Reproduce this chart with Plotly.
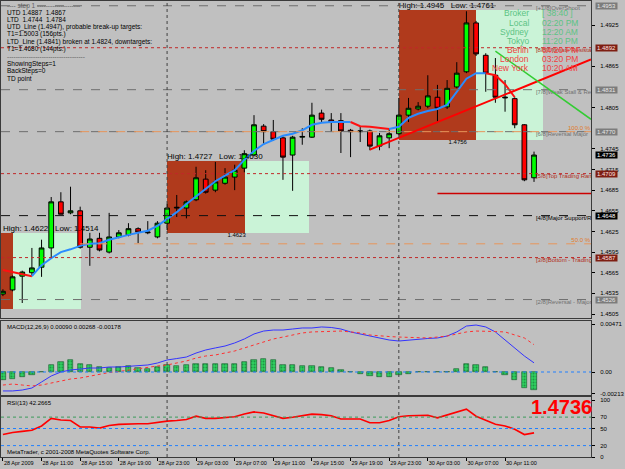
import plotly.graph_objects as go

# ---------------- DATA ----------------
bar_index = list(range(56))
opens = [1.4534, 1.4540, 1.4560, 1.4565, 1.4573, 1.4601, 1.4668, 1.4652, 1.4655, 1.4602,
         1.4615, 1.4595, 1.4617, 1.4620, 1.4629, 1.4623, 1.4617, 1.4637, 1.4659, 1.4659,
         1.4671, 1.4701, 1.4685, 1.4695, 1.4704, 1.4717, 1.4736, 1.4778, 1.4770, 1.4761,
         1.4736, 1.4762, 1.4762, 1.4797, 1.4787, 1.4786, 1.4772, 1.4770, 1.4771, 1.4749,
         1.4761, 1.4767, 1.4794, 1.4803, 1.4807, 1.4820, 1.4806, 1.4835, 1.4857, 1.4928,
         1.4881, 1.4852, 1.4819, 1.4818, 1.4780, 1.4703]
highs = [1.4541, 1.4561, 1.4568, 1.4601, 1.4613, 1.4675, 1.4682, 1.4690, 1.4661, 1.4623,
         1.4623, 1.4652, 1.4627, 1.4637, 1.4631, 1.4640, 1.4640, 1.4665, 1.4678, 1.4670,
         1.4719, 1.4714, 1.4726, 1.4717, 1.4722, 1.4743, 1.4794, 1.4781, 1.4787, 1.4763,
         1.4764, 1.4775, 1.4812, 1.4802, 1.4797, 1.4797, 1.4774, 1.4777, 1.4773, 1.4768,
         1.4775, 1.4819, 1.4819, 1.4813, 1.4852, 1.4838, 1.4845, 1.4871, 1.4945, 1.4931,
         1.4884, 1.4877, 1.4845, 1.4820, 1.4781, 1.4741]
lows = [1.4531, 1.4538, 1.4521, 1.4560, 1.4559, 1.4586, 1.4650, 1.4650, 1.4600, 1.4575,
        1.4596, 1.4593, 1.4615, 1.4618, 1.4608, 1.4621, 1.4615, 1.4627, 1.4646, 1.4644,
        1.4669, 1.4680, 1.4682, 1.4693, 1.4685, 1.4711, 1.4734, 1.4751, 1.4757, 1.4700,
        1.4684, 1.4751, 1.4761, 1.4784, 1.4770, 1.4739, 1.4733, 1.4755, 1.4743, 1.4743,
        1.4746, 1.4765, 1.4784, 1.4801, 1.4804, 1.4784, 1.4803, 1.4833, 1.4855, 1.4880,
        1.4828, 1.4812, 1.4799, 1.4775, 1.4698, 1.4697]
closes = [1.4538, 1.4559, 1.4566, 1.4572, 1.4601, 1.4668, 1.4650, 1.4655, 1.4602, 1.4614,
          1.4598, 1.4617, 1.4623, 1.4629, 1.4624, 1.4624, 1.4637, 1.4659, 1.4660, 1.4668,
          1.4703, 1.4682, 1.4697, 1.4704, 1.4714, 1.4738, 1.4780, 1.4770, 1.4759, 1.4733,
          1.4762, 1.4763, 1.4794, 1.4788, 1.4784, 1.4771, 1.4770, 1.4771, 1.4749, 1.4764,
          1.4767, 1.4794, 1.4804, 1.4807, 1.4822, 1.4804, 1.4833, 1.4855, 1.4928, 1.4883,
          1.4855, 1.4820, 1.4820, 1.4780, 1.4700, 1.4736]

ma_values = [1.4569, 1.4566, 1.4563, 1.4560, 1.4576, 1.4586, 1.4595, 1.4599, 1.4604, 1.4607,
             1.4608, 1.4613, 1.4617, 1.4620, 1.4623, 1.4626, 1.4633, 1.4643, 1.4653, 1.4665,
             1.4676, 1.4688, 1.4698, 1.4706, 1.4714, 1.4729, 1.4742, 1.4752, 1.4758, 1.4764,
             1.4767, 1.4772, 1.4780, 1.4783, 1.4784, 1.4784, 1.4784, 1.4778, 1.4777, 1.4775,
             1.4774, 1.4777, 1.4790, 1.4796, 1.4800, 1.4803, 1.4809, 1.4828, 1.4847, 1.4855,
             1.4855, 1.4852, 1.4839, 1.4820]

macd_main = [-0.00186, -0.00186, -0.00177, -0.00157, -0.00098, -0.00039, 0.00000, 0.00020, 0.00029, 0.00039,
             0.00039, 0.00049, 0.00049, 0.00054, 0.00059, 0.00069, 0.00088, 0.00118, 0.00132, 0.00147,
             0.00186, 0.00216, 0.00236, 0.00255, 0.00285, 0.00324, 0.00373, 0.00402, 0.00412, 0.00412,
             0.00422, 0.00432, 0.00432, 0.00442, 0.00437, 0.00422, 0.00393, 0.00373, 0.00353, 0.00334,
             0.00314, 0.00304, 0.00314, 0.00324, 0.00329, 0.00334, 0.00353, 0.00393, 0.00451, 0.00461,
             0.00442, 0.00393, 0.00314, 0.00236, 0.00157, 0.00090]
macd_signal = [-0.00128, -0.00118, -0.00128, -0.00137, -0.00128, -0.00108, -0.00088, -0.00069, -0.00059, -0.00039,
               -0.00020, -0.00005, 0.00005, 0.00020, 0.00029, 0.00044, 0.00059, 0.00069, 0.00088, 0.00108,
               0.00137, 0.00157, 0.00167, 0.00186, 0.00206, 0.00236, 0.00265, 0.00294, 0.00324, 0.00343,
               0.00363, 0.00383, 0.00393, 0.00397, 0.00402, 0.00402, 0.00393, 0.00383, 0.00363, 0.00353,
               0.00348, 0.00343, 0.00338, 0.00334, 0.00334, 0.00343, 0.00353, 0.00373, 0.00393, 0.00402,
               0.00402, 0.00397, 0.00393, 0.00363, 0.00334, 0.00268]
macd_hist = [-0.00082, -0.00072, -0.00049, -0.00032, 0.00002, 0.00072, 0.00098, 0.00115, 0.00081, 0.00066,
             0.00049, 0.00042, 0.00049, 0.00059, 0.00039, 0.00032, 0.00049, 0.00066, 0.00059, 0.00066,
             0.00081, 0.00081, 0.00081, 0.00081, 0.00081, 0.00098, 0.00121, 0.00130, 0.00115, 0.00066,
             0.00066, 0.00056, 0.00056, 0.00049, 0.00039, 0.00017, 0.00003, -0.00017, -0.00042, -0.00049,
             -0.00049, -0.00032, -0.00017, 0.00000, 0.00001, 0.00003, 0.00001, 0.00026, 0.00081, 0.00072,
             0.00049, 0.00000, -0.00026, -0.00081, -0.00157, -0.00178]

rsi_values = [39.4, 43.1, 45.0, 46.9, 54.5, 67.8, 65.0, 64.0, 52.6, 52.6,
              50.7, 55.4, 57.3, 58.3, 58.3, 58.3, 61.1, 63.0, 64.0, 65.9,
              71.6, 67.8, 67.8, 69.7, 70.6, 75.3, 79.1, 77.2, 72.5, 67.8,
              69.7, 72.5, 75.3, 74.4, 72.5, 66.8, 66.8, 66.8, 60.2, 60.2,
              64.0, 70.6, 72.5, 73.4, 73.4, 68.7, 73.4, 78.2, 83.9, 71.6,
              64.0, 57.3, 54.5, 48.8, 39.4, 42.27]

tick_bars = [0, 4, 8, 12, 16, 20, 24, 28, 32, 36, 40, 44, 48, 52]
tick_labels = ["28 Apr 2009", "28 Apr 11:00", "28 Apr 15:00", "28 Apr 19:00", "28 Apr 23:00",
               "29 Apr 03:00", "29 Apr 07:00", "29 Apr 11:00", "29 Apr 15:00", "29 Apr 19:00",
               "29 Apr 23:00", "30 Apr 03:00", "30 Apr 07:00", "30 Apr 11:00"]
day_separators = [17, 41]

price_ticks = [1.4505, 1.4535, 1.4565, 1.4595, 1.4625, 1.4655, 1.4685, 1.4715, 1.4745,
               1.4775, 1.4805, 1.4835, 1.4865, 1.4895, 1.4925, 1.4955]

murrey_levels = [1.4953, 1.4892, 1.4831, 1.4770, 1.4709, 1.4648, 1.4587, 1.4526]
murrey_labels = ["[+1/8]OverShoot", "[8/8]Ultimate Resistance", "[7/8]Weak Stall & Reverse",
                 "[6/8]Reversal Major", "[5/8]Top Trading Range", "[4/8]Major Support/Resist",
                 "[3/8]Bottom - Trading Range", "[2/8]Reversal - Major"]
murrey_kind = ["gray", "red", "gray", "gray", "red", "black", "red", "gray"]

fib_start = 8
fib_levels = [1.4770, 1.4607]
fib_labels = ["100.0 %", "50.0 %"]

box_start = [-8, 17, 41]
box_mid = [1, 25.1, 49]
box_end = [8.1, 31.7, 55.9]
box_high = [1.4623, 1.4727, 1.4947]
box_low = [1.4512, 1.4623, 1.4758]
box_label_x = [0, 17, 41]
box_labels = ["High: 1.4622   Low: 1.4514", "High: 1.4727   Low: 1.4630", "High: 1.4945   Low: 1.4761"]
low_label_x = [24.2, 47.1]
low_label_y = [1.4623, 1.4758]
low_labels = ["1.4623", "1.4756"]

ltd_x = [38, 45]
ltd_y = [1.4744, 1.4784]
utd_x = [51, 53]
utd_y = [1.4887, 1.4867]
target_start = 45
target_price = 1.4680
last_price = 1.4736

info_lines = ["---- step 1 --------------------", "UTD 1.4887  1.4867", "LTD  1.4744  1.4784",
              "UTD_Line (1.4947), probable break-up targets:", "T1=1.5003 (156pts.)",
              "LTD_Line (1.4841) broken at 1.4824, downtargets:", "T1=1.4680 (144pts.)",
              "------------------------------------", "ShowingSteps=1", "BackSteps=0", "TD point"]
clock_names = ["Broker", "Local", "Sydney", "Tokyo", "Berlin", "London", "New York"]
clock_times = ["[ 38:40 ]", "02:20 PM", "12:20 AM", "11:20 PM", "04:20 PM", "03:20 PM", "10:20 AM"]

# ---------------- LAYOUT HELPERS ----------------
PLOT_W, TOP, BOT = 597.0, 1.0, 457.0
def px(x):
    return x / PLOT_W
def py(y):
    return (BOT - y) / (BOT - TOP)

X_RANGE = [-0.2, 60.9]
BG = "#C0C0C0"
FONT = "Liberation Sans, Arial, sans-serif"
BOX_RED = "#B03A1C"

fig = go.Figure()

# session boxes as bars (bars are drawn beneath candles)
fig.add_trace(go.Bar(
    x=[(s + m) / 2 for s, m in zip(box_start, box_mid)],
    y=[h - l for h, l in zip(box_high, box_low)], base=box_low,
    width=[m - s for s, m in zip(box_start, box_mid)],
    marker=dict(color=BOX_RED, line=dict(width=0)), hoverinfo="skip", xaxis="x", yaxis="y"))
fig.add_trace(go.Bar(
    x=[(m + e) / 2 for m, e in zip(box_mid, box_end)],
    y=[h - l for h, l in zip(box_high, box_low)], base=box_low,
    width=[e - m for m, e in zip(box_mid, box_end)],
    marker=dict(color="#FFFFFF", line=dict(width=0),
                pattern=dict(shape=".", fgcolor="#35C765", bgcolor="#F4FFF6", size=2, solidity=0.5)),
    hoverinfo="skip", xaxis="x", yaxis="y"))

# candles
fig.add_trace(go.Candlestick(
    x=bar_index, open=opens, high=highs, low=lows, close=closes,
    increasing=dict(fillcolor="#00FF00", line=dict(color="#000000", width=1)),
    decreasing=dict(fillcolor="#FF0000", line=dict(color="#000000", width=1)),
    whiskerwidth=0, hoverinfo="skip", xaxis="x", yaxis="y"))

# colour-changing moving average: split into runs of rising / falling
runs = []
for i in range(len(ma_values) - 1):
    up = ma_values[i + 1] >= ma_values[i]
    if runs and runs[-1][0] == up:
        runs[-1][1].append(i + 1)
    else:
        runs.append([up, [i, i + 1]])
for up, idx in runs:
    fig.add_trace(go.Scatter(
        x=[bar_index[j] for j in idx], y=[ma_values[j] for j in idx], mode="lines",
        line=dict(color="#2A8CFF" if up else "#FF1010", width=2),
        hoverinfo="skip", xaxis="x", yaxis="y"))

# Murrey labels (clipped to plot)
murrey_text_col = {"gray": "#707070", "red": "#B03020", "black": "#000000"}
fig.add_trace(go.Scatter(
    x=[55.2] * len(murrey_levels), y=murrey_levels, mode="text", text=murrey_labels,
    textposition="bottom right",
    textfont=dict(family=FONT, size=6, color=[murrey_text_col[k] for k in murrey_kind]),
    hoverinfo="skip", cliponaxis=True, xaxis="x", yaxis="y"))
fig.add_trace(go.Scatter(
    x=[X_RANGE[1] - 0.1] * len(fib_levels), y=fib_levels, mode="text", text=fib_labels,
    textposition="top left", textfont=dict(family=FONT, size=6, color="#E07A28"),
    hoverinfo="skip", cliponaxis=True, xaxis="x", yaxis="y"))
fig.add_trace(go.Scatter(
    x=box_label_x, y=box_high, mode="text", text=box_labels, textposition="top right",
    textfont=dict(family=FONT, size=8, color="#000000"),
    hoverinfo="skip", cliponaxis=True, xaxis="x", yaxis="y"))
fig.add_trace(go.Scatter(
    x=low_label_x, y=low_label_y, mode="text", text=low_labels, textposition="bottom center",
    textfont=dict(family=FONT, size=6, color="#000000"),
    hoverinfo="skip", cliponaxis=True, xaxis="x", yaxis="y"))

# MACD
fig.add_trace(go.Bar(
    x=bar_index, y=macd_hist, width=0.55,
    marker=dict(color="#2FD060", line=dict(color="#145A2A", width=0.6),
                pattern=dict(shape=".", fgcolor="#0E5A28", size=3, solidity=0.35)),
    hoverinfo="skip", xaxis="x2", yaxis="y2"))
fig.add_trace(go.Scatter(x=bar_index, y=macd_main, mode="lines",
                         line=dict(color="#3434FF", width=1), hoverinfo="skip", xaxis="x2", yaxis="y2"))
fig.add_trace(go.Scatter(x=bar_index, y=macd_signal, mode="lines",
                         line=dict(color="#FF3030", width=1, dash="dot"), hoverinfo="skip", xaxis="x2", yaxis="y2"))

# RSI
fig.add_trace(go.Scatter(x=bar_index, y=rsi_values, mode="lines",
                         line=dict(color="#FF0000", width=1.6), hoverinfo="skip", xaxis="x3", yaxis="y3"))

shapes = []
line_col = {"gray": "#6E6E6E", "red": "#C02828", "black": "#101010"}
for lvl, kind in zip(murrey_levels, murrey_kind):
    shapes.append(dict(type="line", xref="x domain", x0=0, x1=1, yref="y", y0=lvl, y1=lvl,
                       line=dict(color=line_col[kind], width=1, dash="dash" if kind != "red" else "dot")))
for lvl in fib_levels:
    shapes.append(dict(type="line", xref="x", x0=fib_start, x1=X_RANGE[1], yref="y", y0=lvl, y1=lvl,
                       line=dict(color="#E8955A", width=1, dash="dash")))
slope_l = (ltd_y[1] - ltd_y[0]) / (ltd_x[1] - ltd_x[0])
shapes.append(dict(type="line", xref="x", x0=ltd_x[0], x1=X_RANGE[1], yref="y", y0=ltd_y[0],
                   y1=ltd_y[0] + slope_l * (X_RANGE[1] - ltd_x[0]), line=dict(color="#FF0000", width=2)))
slope_u = (utd_y[1] - utd_y[0]) / (utd_x[1] - utd_x[0])
shapes.append(dict(type="line", xref="x", x0=utd_x[0], x1=X_RANGE[1], yref="y", y0=utd_y[0],
                   y1=utd_y[0] + slope_u * (X_RANGE[1] - utd_x[0]), line=dict(color="#33CC33", width=1.5)))
shapes.append(dict(type="line", xref="x", x0=target_start, x1=X_RANGE[1], yref="y", y0=target_price,
                   y1=target_price, line=dict(color="#CC0000", width=1.5)))
for xs in day_separators:
    for yr in ["y", "y2", "y3"]:
        shapes.append(dict(type="line", xref="x", x0=xs, x1=xs, yref=yr + " domain", y0=0, y1=1,
                           line=dict(color="#404040", width=1, dash="dot")))
shapes.append(dict(type="line", xref="x2 domain", x0=0, x1=1, yref="y2", y0=0, y1=0,
                   line=dict(color="#2080FF", width=1, dash="dot")))
for lvl, col in [(70, "#3C9A5A"), (50, "#2080FF"), (20, "#2080FF")]:
    shapes.append(dict(type="line", xref="x3 domain", x0=0, x1=1, yref="y3", y0=lvl, y1=lvl,
                       line=dict(color=col, width=1, dash="dot")))

annotations = []
info_y = [6, 12.5, 19, 27, 34, 42, 49, 56.5, 63.5, 71, 79]
for t, yy in zip(info_lines, info_y):
    annotations.append(dict(xref="paper", yref="paper", x=px(4), y=py(yy), text=t, showarrow=False,
                            xanchor="left", yanchor="middle",
                            font=dict(family=FONT, size=6.5, color="#606060" if t.startswith("-") else "#000000")))
clock_y = [13, 22.5, 32, 41, 50, 59, 68]
for k, (n, t, yy) in enumerate(zip(clock_names, clock_times, clock_y)):
    col = "#5CC384" if k < 4 else "#F04040"
    annotations.append(dict(xref="paper", yref="paper", x=px(536), y=py(yy), text=n, showarrow=False,
                            xanchor="right", yanchor="middle", font=dict(family=FONT, size=8.5, color=col)))
    annotations.append(dict(xref="paper", yref="paper", x=px(545), y=py(yy), text=t, showarrow=False,
                            xanchor="left", yanchor="middle", font=dict(family=FONT, size=8.5, color=col)))

box_style = {"gray": ("#7C7C7C", "#E8E8E8"), "red": ("#7E1E12", "#FFE0E0"), "black": ("#000000", "#FFFFFF")}
box_levels = list(zip(murrey_levels, murrey_kind)) + [(last_price, "black")]
for lvl, kind in box_levels:
    bg, fg = box_style[kind]
    annotations.append(dict(xref="paper", yref="y", x=1, y=lvl, xanchor="left", xshift=4,
                            text=f"{lvl:.4f}", showarrow=False, bgcolor=bg, borderpad=0, width=21,
                            font=dict(family=FONT, size=6, color=fg)))
# plain scale labels that a level box sits on top of are left out
shown_ticks = [t for t in price_ticks if min(abs(t - b[0]) for b in box_levels) > 0.00055]

annotations.append(dict(xref="paper", yref="paper", x=px(4), y=py(326.5),
                        text="MACD(12,26,9) 0.00090 0.00268 -0.00178", showarrow=False,
                        xanchor="left", yanchor="middle", font=dict(family=FONT, size=6, color="#000")))
annotations.append(dict(xref="paper", yref="paper", x=px(4), y=py(402.5), text="RSI(13) 42.2665",
                        showarrow=False, xanchor="left", yanchor="middle",
                        font=dict(family=FONT, size=6, color="#000")))
annotations.append(dict(xref="paper", yref="paper", x=px(4), y=py(452),
                        text="MetaTrader, c 2001-2008 MetaQuotes Software Corp.", showarrow=False,
                        xanchor="left", yanchor="middle", font=dict(family=FONT, size=6, color="#000")))
annotations.append(dict(xref="paper", yref="paper", x=px(567), y=py(407), text=f"<b>{last_price:.4f}</b>",
                        showarrow=False, xanchor="center", yanchor="middle",
                        font=dict(family=FONT, size=20, color="#FF0000")))

axis_common = dict(showgrid=False, zeroline=False, showline=True, mirror=True,
                   linecolor="#3A3A3A", linewidth=1)
fig.update_layout(
    width=625, height=469, margin=dict(l=0, r=28, t=1, b=12),
    paper_bgcolor=BG, plot_bgcolor=BG, showlegend=False, hovermode=False,
    barmode="overlay", bargap=0,
    font=dict(family=FONT, size=6, color="#000000"),
    xaxis=dict(domain=[0, 1], anchor="y", range=X_RANGE, showticklabels=False, ticks="",
               rangeslider=dict(visible=False), **axis_common),
    xaxis2=dict(domain=[0, 1], anchor="y2", range=X_RANGE, showticklabels=False, ticks="", **axis_common),
    xaxis3=dict(domain=[0, 1], anchor="y3", range=X_RANGE, tickmode="array", tickvals=tick_bars,
                ticktext=tick_labels, ticks="outside", ticklen=3, tickcolor="#000", tickangle=0,
                ticklabelposition="outside right", tickfont=dict(size=5.5), **axis_common),
    yaxis=dict(domain=[py(318), 1], anchor="x", side="right", range=[1.44992, 1.49599],
               tickmode="array", tickvals=shown_ticks, ticktext=[f"{v:.4f}" for v in shown_ticks],
               ticks="outside", ticklen=3, tickcolor="#000", ticklabelstandoff=4,
               tickfont=dict(size=6), **axis_common),
    yaxis2=dict(domain=[py(395), py(321)], anchor="x2", side="right", range=[-0.002257, 0.005005],
                tickmode="array", tickvals=[0.00471, 0.0, -0.00213], ticktext=["0.00471", "0.00", "-0.00213"],
                ticks="outside", ticklen=3, tickcolor="#000", ticklabelstandoff=4,
                tickfont=dict(size=6), **axis_common),
    yaxis3=dict(domain=[0, py(397)], anchor="x3", side="right", range=[0, 105.3],
                tickmode="array", tickvals=[100, 70, 50, 20, 0], ticktext=["100", "70", "50", "20", "0"],
                ticks="outside", ticklen=3, tickcolor="#000", ticklabelstandoff=4,
                tickfont=dict(size=6), **axis_common),
    shapes=shapes, annotations=annotations,
)

fig.write_html("out.html", config={"displayModeBar": False})
